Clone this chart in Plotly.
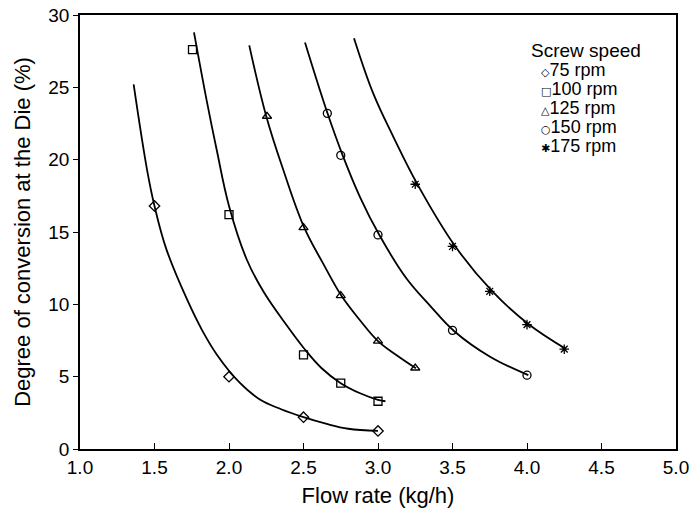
import plotly.graph_objects as go

# Measured points (flow rate kg/h, degree of conversion %)
x_75 = [1.5, 2.0, 2.5, 3.0]
y_75 = [16.8, 5.0, 2.2, 1.25]
x_100 = [1.755, 2.0, 2.5, 2.75, 3.0]
y_100 = [27.6, 16.2, 6.5, 4.55, 3.3]
x_125 = [2.255, 2.5, 2.75, 3.0, 3.25]
y_125 = [23.0, 15.3, 10.6, 7.45, 5.6]
x_150 = [2.66, 2.75, 3.0, 3.5, 4.0]
y_150 = [23.2, 20.3, 14.8, 8.2, 5.1]
x_175 = [3.25, 3.5, 3.75, 4.0, 4.25]
y_175 = [18.3, 14.0, 10.9, 8.6, 6.9]

# Fitted curves
fx_75 = [1.36, 1.45, 1.5, 1.58, 1.72, 1.82, 1.92, 2.07, 2.21, 2.35, 2.5, 2.65, 2.8, 3.0]
fy_75 = [25.2, 19.3, 16.8, 13.8, 10.3, 8.2, 6.5, 4.6, 3.4, 2.75, 2.2, 1.75, 1.4, 1.25]
fx_100 = [1.765, 1.85, 1.917, 2.0, 2.119, 2.23, 2.387, 2.5, 2.62, 2.75, 2.88, 3.0, 3.05]
fy_100 = [28.8, 24.1, 20.7, 16.8, 13.1, 10.9, 8.55, 7.0, 5.6, 4.55, 3.85, 3.4, 3.3]
fx_125 = [2.136, 2.25, 2.364, 2.505, 2.633, 2.756, 2.879, 3.0, 3.13, 3.255]
fy_125 = [27.9, 23.0, 19.3, 15.3, 12.8, 10.57, 8.9, 7.46, 6.45, 5.58]
fx_150 = [2.51, 2.66, 2.763, 2.88, 3.009, 3.19, 3.35, 3.51, 3.752, 4.009]
fy_150 = [28.1, 23.24, 20.3, 17.4, 14.79, 11.8, 9.9, 8.16, 6.38, 5.11]
fx_175 = [2.839, 2.968, 3.103, 3.264, 3.517, 3.763, 4.009, 4.262]
fy_175 = [28.4, 24.58, 21.58, 18.31, 14.03, 10.94, 8.64, 6.91]

legend_title = "Screw speed"
labels = ["75 rpm", "100 rpm", "125 rpm", "150 rpm", "175 rpm"]
symbols = ["diamond-open", "square-open", "triangle-up-open", "circle-open", "asterisk-open"]
legend_glyphs = ["\u25C7", "\u25A1", "\u25B3", "\u25CB", "\u2731"]

x_ticks = [1.0, 1.5, 2.0, 2.5, 3.0, 3.5, 4.0, 4.5, 5.0]
x_ticktext = ["1.0", "1.5", "2.0", "2.5", "3.0", "3.5", "4.0", "4.5", "5.0"]
y_ticks = [0, 5, 10, 15, 20, 25, 30]

points = [(x_75, y_75), (x_100, y_100), (x_125, y_125), (x_150, y_150), (x_175, y_175)]
fits = [(fx_75, fy_75), (fx_100, fy_100), (fx_125, fy_125), (fx_150, fy_150), (fx_175, fy_175)]

fig = go.Figure()
for (fx, fy) in fits:
    fig.add_trace(go.Scatter(x=fx, y=fy, mode="lines",
                             line=dict(color="black", width=1.8, shape="spline", smoothing=1.1),
                             showlegend=False, hoverinfo="skip"))
for (px, py), lab, sym in zip(points, labels, symbols):
    fig.add_trace(go.Scatter(x=px, y=py, mode="markers", name=lab, showlegend=False,
                             marker=dict(symbol=sym, size=8, color="black",
                                         line=dict(color="black", width=1.3))))

font_family = "Liberation Sans, Arial, sans-serif"

# Legend drawn as text (title + one line per series, tight line spacing like the original)
annotations = [dict(text=legend_title, xref="paper", yref="paper", x=0.754, y=0.918,
                    xanchor="left", yanchor="middle", showarrow=False,
                    font=dict(size=19, family=font_family, color="black"))]
row_step = 19 / 434
for i, (g, lab) in enumerate(zip(legend_glyphs, labels)):
    annotations.append(dict(
        text=f'<span style="font-size:11px;font-family:DejaVu Sans">{g}</span>{lab}',
        xref="paper", yref="paper", x=0.770, y=0.873 - i * row_step,
        xanchor="left", yanchor="middle", showarrow=False,
        font=dict(size=18, family=font_family, color="black")))

fig.update_layout(
    width=693, height=515,
    margin=dict(l=80, r=17, t=15, b=66, autoexpand=False),
    paper_bgcolor="white", plot_bgcolor="white",
    font=dict(family=font_family, color="black", size=18),
    showlegend=False,
    annotations=annotations,
    xaxis=dict(
        range=[1.0, 5.0], tickvals=x_ticks, ticktext=x_ticktext,
        ticks="inside", ticklen=6, tickcolor="black",
        showline=True, linecolor="black", linewidth=1.5, mirror=True,
        showgrid=False, zeroline=False, automargin=False,
        title=dict(text="Flow rate (kg/h)", font=dict(size=22), standoff=11),
        tickfont=dict(size=19),
    ),
    yaxis=dict(
        range=[0, 30], tickvals=y_ticks,
        ticks="outside", ticklen=5, tickcolor="black",
        showline=True, linecolor="black", linewidth=1.5, mirror=True,
        showgrid=False, zeroline=False, automargin=False,
        title=dict(text="Degree of conversion at the Die (%)", font=dict(size=22), standoff=12),
        tickfont=dict(size=19),
    ),
)

fig.write_html("out.html")
